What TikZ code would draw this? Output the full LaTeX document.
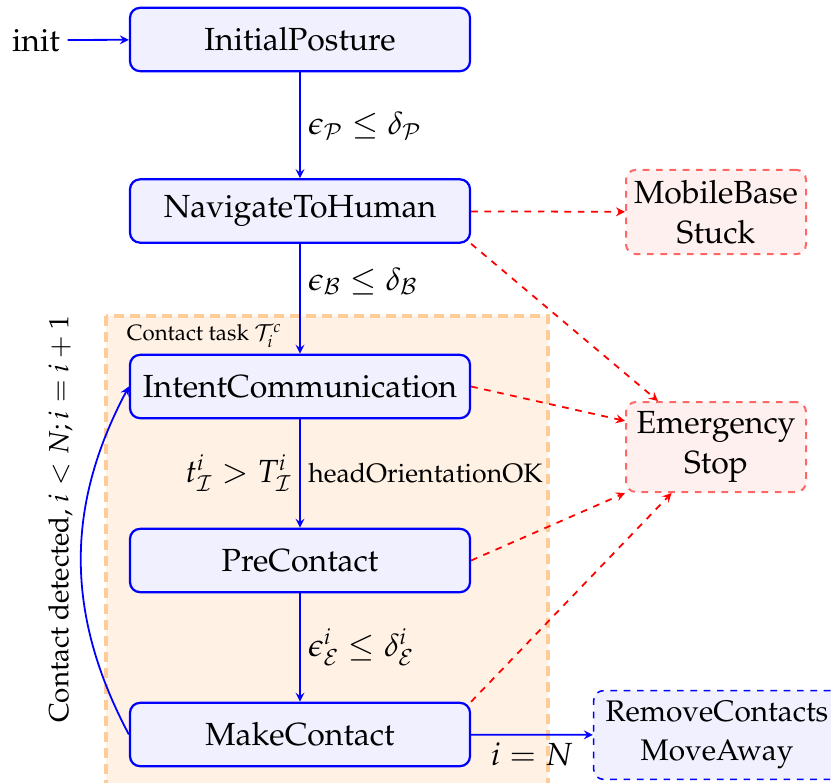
\documentclass[tikz,border=0pt]{standalone}
\usepackage[T1]{fontenc}
\usepackage{amsmath}
\usepackage{mathpazo}
\usepackage{tikz}
\usetikzlibrary{arrows}

\tikzset{
  statebox/.style={draw=blue, fill=blue!6, line width=1pt, rounded corners=4.5pt,
    minimum width=153pt, minimum height=28.5pt, font=\Large},
  faultbox/.style={draw=red!60, dashed, fill=red!6, line width=0.9pt, rounded corners=4.5pt,
    minimum width=81pt, minimum height=38pt, align=center, font=\Large},
  exitbox/.style={draw=blue, dashed, fill=blue!6, line width=0.7pt, rounded corners=4.5pt,
    minimum width=111pt, minimum height=40pt, align=center, font=\fontsize{13.4}{17.5}\selectfont},
  taskbox/.style={draw=orange!40, dashed, dash pattern=on 4.5pt off 2.7pt, fill=orange!10, line width=1.4pt},
  go/.style={->, >=stealth, draw=blue, line width=0.8pt},
  fail/.style={->, >=stealth, draw=red, dashed, line width=0.8pt}
}

\begin{document}
\begin{tikzpicture}[x=0.45pt, y=-0.45pt]
    \useasboundingbox (0,0) rectangle (831,783);
    % Contact task background
    \draw[taskbox] (106,316) rectangle (548,795);
    \node[anchor=north west, inner sep=2pt] (tasklabel) at (122,319) {Contact task $\mathcal{T}_i^c$};

    % States
    \node[statebox] (initial) at (300,39.5) {InitialPosture};
    \node[statebox] (navigate) at (300,211) {NavigateToHuman};
    \node[statebox] (intent) at (300,386.5) {IntentCommunication};
    \node[statebox] (precontact) at (300,560.5) {PreContact};
    \node[statebox] (makecontact) at (300,734.5) {MakeContact};
    \node[font=\Large] (init) at (36,40) {init};

    % Failure and exit states
    \node[faultbox] (stuck) at (716,212) {MobileBase\\Stuck};
    \node[faultbox, minimum height=40.5pt] (stop) at (716,447) {Emergency\\Stop};
    \node[exitbox] (away) at (717,735) {RemoveContacts\\MoveAway};

    % Nominal transitions
    \draw[go] (init) -- (initial);
    \draw[go] (initial) -- node[right, font=\Large] (lblpose) {$\epsilon_{\mathcal{P}} \leq \delta_{\mathcal{P}}$} (navigate);
    \draw[go] (navigate) -- node[right, pos=0.34, font=\Large] (lblbase) {$\epsilon_{\mathcal{B}} \leq \delta_{\mathcal{B}}$} (intent);
    \draw[go] (intent) -- node[left, font=\Large] (lbltime) {$t_{\mathcal{I}}^i > T_{\mathcal{I}}^i$}
        node[right, font=\large] (lblhead) {headOrientationOK} (precontact);
    \draw[go] (precontact) -- node[right, font=\Large] (lblee) {$\epsilon_{\mathcal{E}}^i \leq \delta_{\mathcal{E}}^i$} (makecontact);
    \draw[go] (makecontact) -- node[below, font=\Large] (lbldone) {$i = N$} (away);
    \draw[go] (makecontact.west) to[out=118, in=242]
        node[pos=0.62, rotate=90, anchor=south, inner sep=4.5pt, font=\fontsize{12.5}{15}\selectfont] (lblloop) {Contact detected, $i < N; i = i + 1$} (intent.west);

    % Failures
    \draw[fail] (navigate) -- (stuck);
    \draw[fail] (navigate.south east) -- (stop.north west -| 658,0);
    \draw[fail] (intent.east) -- (stop.164);
    \draw[fail] (precontact.east) -- (stop.south west);
    \draw[fail] (makecontact.north east) -- (stop.226);
\end{tikzpicture}
\end{document}
